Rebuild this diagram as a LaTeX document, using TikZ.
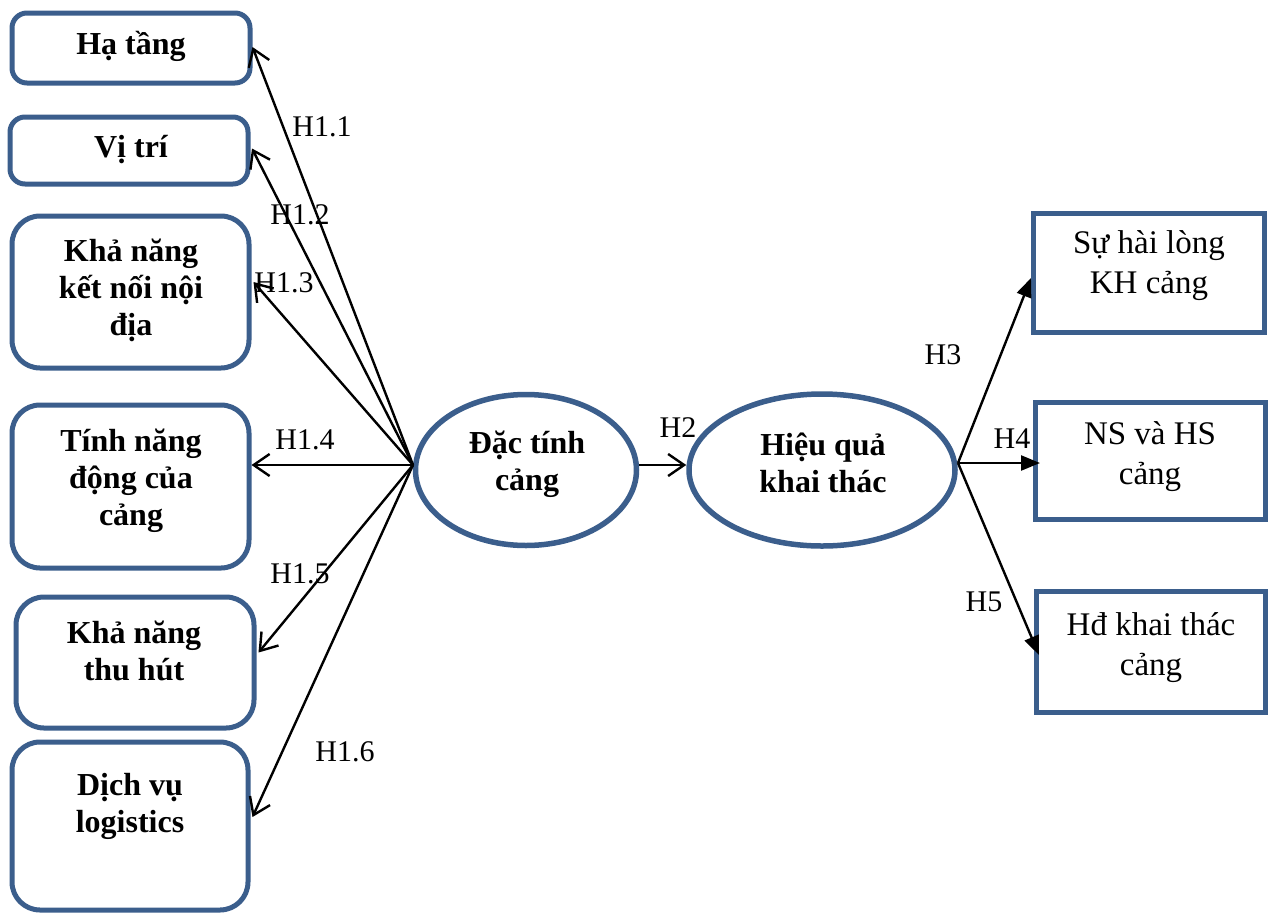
\documentclass[tikz,border=0pt]{standalone}
\usepackage{fontspec}
\setmainfont{Liberation Serif}
\usetikzlibrary{arrows.meta,shapes.geometric}
\definecolor{boxblue}{RGB}{59,94,140}
\begin{document}
\begin{tikzpicture}[x=1pt,y=-1pt,
  rbox/.style={draw=boxblue, line width=5pt, inner sep=0pt},
  sbox/.style={rbox, rounded corners=15pt},
  lbox/.style={rbox, rounded corners=28pt},
  ebox/.style={draw=boxblue, line width=5.5pt, ellipse, inner sep=0pt},
  btxt/.style={font=\fontsize{32}{37}\selectfont\bfseries, align=center, inner sep=0pt},
  rtxt/.style={font=\fontsize{33}{40}\selectfont, align=center, inner sep=0pt},
  lab/.style={font=\fontsize{30}{34}\selectfont, inner sep=0pt},
  larrow/.style={line width=2.4pt, -{Straight Barb[length=16pt,width=22pt,line width=2.4pt]}},
  rarrow/.style={line width=2.4pt, -{Triangle[length=19pt,width=15pt]}}]
\useasboundingbox (0,0) rectangle (1278,914);
% left boxes
\node[sbox, minimum width=238pt, minimum height=70pt] (b1) at (131,48) {};
\node[sbox, minimum width=238pt, minimum height=67pt] (b2) at (129,150.5) {};
\node[lbox, minimum width=237pt, minimum height=152pt] (b3) at (130.5,292) {};
\node[lbox, minimum width=237pt, minimum height=163pt] (b4) at (130.5,486.5) {};
\node[lbox, minimum width=238pt, minimum height=131pt] (b5) at (135,662.5) {};
\node[lbox, minimum width=236pt, minimum height=168pt] (b6) at (130,826) {};
\node[btxt] (t1) at (131,46) {Hạ tầng};
\node[btxt] (t2) at (131,150) {Vị trí};
\node[btxt] (t3) at (131,290) {Khả năng\\kết nối nội\\địa};
\node[btxt] (t4) at (131,481) {Tính năng\\động của\\cảng};
\node[btxt] (t5) at (134,651) {Khả năng\\thu hút};
\node[btxt] (t6) at (130,806) {Dịch vụ\\logistics};
% ellipses
\node[ebox, minimum width=221pt, minimum height=151pt] (e1) at (526,470) {};
\node[ebox, minimum width=266pt, minimum height=152pt] (e2) at (822,470) {};
\node[btxt] (te1) at (527,464) {Đặc tính\\cảng};
\node[btxt] (te2) at (823,463) {Hiệu quả\\khai thác};
% right boxes
\node[rbox, minimum width=231pt, minimum height=119pt] (r1) at (1149,273) {};
\node[rbox, minimum width=230pt, minimum height=117pt] (r2) at (1150.5,461) {};
\node[rbox, minimum width=229pt, minimum height=121pt] (r3) at (1151,652) {};
\node[rtxt] (tr1) at (1149,266) {Sự hài lòng\\KH cảng};
\node[rtxt] (tr2) at (1150,457) {NS và HS\\cảng};
\node[rtxt] (tr3) at (1151,648) {Hđ khai thác\\cảng};
% hubs
\coordinate (hub) at (413,465);
\coordinate (rhub) at (958,463);
% left connectors
\draw[larrow] (hub) -- ([yshift=1pt]b1.east);
\draw[larrow] (hub) -- ([xshift=1.5pt,yshift=2pt]b2.east);
\draw[larrow] (hub) -- ([xshift=2pt,yshift=10pt]b3.east);
\draw[larrow] (hub) -- (b4.east |- hub);
\draw[larrow] (hub) -- ([xshift=2pt,yshift=10pt]b5.east);
\draw[larrow] (hub) -- ([xshift=2pt,yshift=9pt]b6.east);
\draw[larrow] (e1.east |- hub) -- (e2.west |- hub);
% right connectors
\draw[rarrow] (rhub) -- ([yshift=-5pt]r1.west);
\draw[rarrow] (rhub) -- ([xshift=7pt]r2.west |- rhub);
\draw[rarrow] (rhub) -- ([xshift=5pt,yshift=-3pt]r3.west);
% labels
\node[lab] (l11) at (322,127) {H1.1};
\node[lab] (l12) at (300,215) {H1.2};
\node[lab] (l13) at (284,283) {H1.3};
\node[lab] (l14) at (305,440) {H1.4};
\node[lab] (l15) at (300,574) {H1.5};
\node[lab] (l16) at (345,752) {H1.6};
\node[lab] (l2) at (678,428) {H2};
\node[lab] (l3) at (943,355) {H3};
\node[lab] (l4) at (1012,439) {H4};
\node[lab] (l5) at (984,602) {H5};
\end{tikzpicture}
\end{document}
